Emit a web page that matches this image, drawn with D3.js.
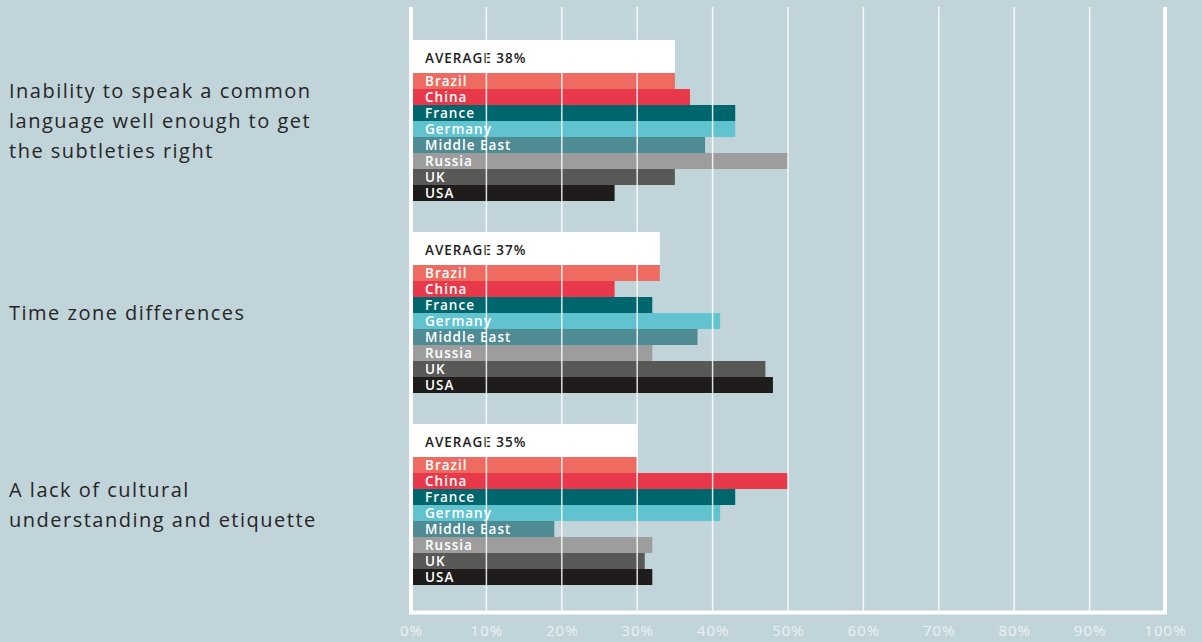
<!DOCTYPE html>
<html>
<head>
<meta charset="utf-8">
<script src="https://cdn.jsdelivr.net/npm/d3@7"></script>
<style>
  html, body { margin: 0; padding: 0; background: #c1d4da; }
  svg { display: block; }
</style>
</head>
<body>
<svg id="chart" width="1202" height="642"></svg>
<script>
// Survey: obstacles to working with people from other countries
const questions = [
  ["Inability to speak a common", "language well enough to get", "the subtleties right"],
  ["Time zone differences"],
  ["A lack of cultural", "understanding and etiquette"]
];
const averages = [38, 37, 35];
const countries = ["Brazil", "China", "France", "Germany", "Middle East", "Russia", "UK", "USA"];
const languageValues = [35, 37, 43, 43, 39, 50, 35, 27];
const timeZoneValues = [33, 27, 32, 41, 38, 32, 47, 48];
const culturalValues = [30, 50, 43, 41, 19, 32, 31, 32];
const tickValues = [0, 10, 20, 30, 40, 50, 60, 70, 80, 90, 100];

const seriesByQuestion = [languageValues, timeZoneValues, culturalValues];
const colors = ["#ee6b62", "#e8394a", "#00666e", "#62c3d0", "#4e8b93", "#9d9d9d", "#585856", "#1e1d1b"];

const svg = d3.select("#chart");
const font = "'Open Sans', 'Noto Sans', sans-serif";

const x = d3.scaleLinear().domain([0, 100]).range([411, 1165]);

// One band per question; each holds a header strip and eight country bars
const group = d3.scaleBand()
  .domain(d3.range(questions.length))
  .range([40, 585])
  .paddingInner(31 / 192);

const headerH = 33;
const bar = d3.scaleBand()
  .domain(countries)
  .range([headerH, group.bandwidth()]);

const color = d3.scaleOrdinal().domain(countries).range(colors);

const gTop = 7, gBottom = 612.5;

// Question labels on the left
const labels = svg.append("g");
questions.forEach((lines, i) => {
  const cy = group(i) + group.bandwidth() / 2;
  const lh = 30;
  const t = labels.append("text")
    .attr("x", 9)
    .attr("font-family", font)
    .attr("font-size", 20)
    .attr("letter-spacing", 1.5)
    .attr("fill", "#262626");
  lines.forEach((line, j) => {
    t.append("tspan")
      .attr("x", 9)
      .attr("y", cy + (j - (lines.length - 1) / 2) * lh + 7)
      .text(line);
  });
});

// Bars
const groups = svg.append("g").selectAll("g")
  .data(seriesByQuestion)
  .join("g")
  .attr("transform", (d, i) => `translate(0,${group(i)})`);

// Header strip: spans the first bar's width
groups.append("rect")
  .attr("x", x(0))
  .attr("y", 0)
  .attr("width", d => x(d[0]) - x(0))
  .attr("height", headerH)
  .attr("fill", "#ffffff");

groups.selectAll("rect.bar")
  .data(d => d.map((v, k) => ({ country: countries[k], value: v })))
  .join("rect")
  .attr("class", "bar")
  .attr("x", x(0))
  .attr("y", d => bar(d.country))
  .attr("width", d => x(d.value) - x(0))
  .attr("height", bar.bandwidth())
  .attr("fill", d => color(d.country));

// Gridlines drawn over the bars
const grid = svg.append("g");
grid.selectAll("line")
  .data(tickValues.filter(v => v > 0 && v < 100))
  .join("line")
  .attr("x1", d => x(d)).attr("x2", d => x(d))
  .attr("y1", gTop).attr("y2", gBottom)
  .attr("stroke", "#ffffff")
  .attr("stroke-opacity", 0.85)
  .attr("stroke-width", 1.5);

// Text on bars
groups.append("text")
  .attr("x", 425)
  .attr("y", headerH - 10)
  .attr("font-family", font)
  .attr("font-size", 13.5)
  .attr("font-weight", 600)
  .attr("letter-spacing", 1.0)
  .attr("fill", "#222222")
  .text((d, i) => `AVERAGE ${averages[i]}%`);

groups.selectAll("text.country")
  .data(countries)
  .join("text")
  .attr("class", "country")
  .attr("x", 425)
  .attr("y", d => bar(d) + 13)
  .attr("font-family", font)
  .attr("font-size", 13.5)
  .attr("font-weight", 600)
  .attr("letter-spacing", 1.0)
  .attr("fill", "#ffffff")
  .text(d => d);

// Frame: left, bottom and right edges
svg.append("path")
  .attr("d", `M${x(0)},${gTop}V${gBottom}H${x(100)}V${gTop}`)
  .attr("fill", "none")
  .attr("stroke", "#ffffff")
  .attr("stroke-width", 4);

// Percentage axis
const axis = d3.axisBottom(x)
  .tickValues(tickValues)
  .tickFormat(d => d + "%")
  .tickSize(0)
  .tickPadding(0);

const axisG = svg.append("g")
  .attr("transform", `translate(0,${gBottom})`)
  .call(axis);
axisG.select(".domain").remove();
axisG.selectAll("text")
  .attr("y", 23)
  .attr("dy", 0)
  .attr("font-family", font)
  .attr("font-size", 15)
  .attr("letter-spacing", 1)
  .attr("fill", "#ebf1f3");
</script>
</body>
</html>
